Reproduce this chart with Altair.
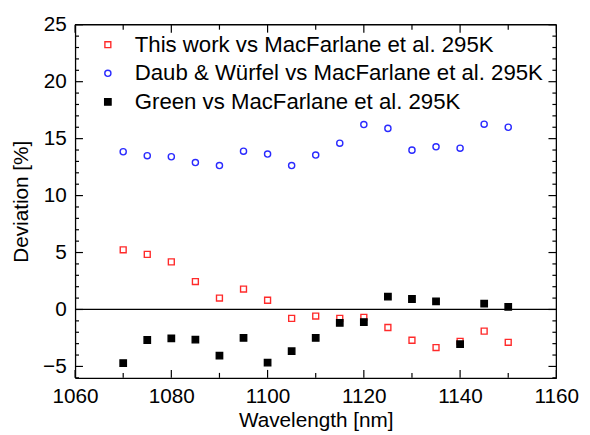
import altair as alt
import pandas as pd

wavelength = [1070, 1075, 1080, 1085, 1090, 1095, 1100, 1105, 1110, 1115,
              1120, 1125, 1130, 1135, 1140, 1145, 1150]
this_work = [5.24, 4.84, 4.18, 2.45, 1.0, 1.79, 0.81, -0.78, -0.58, -0.78,
             -0.69, -1.58, -2.7, -3.34, -2.8, -1.9, -2.88]
daub = [13.85, 13.5, 13.41, 12.9, 12.64, 13.9, 13.65, 12.64, 13.56, 14.6,
        16.24, 15.9, 13.99, 14.28, 14.16, 16.27, 16.0]
green = [-4.7, -2.68, -2.54, -2.65, -4.06, -2.5, -4.67, -3.66, -2.5, -1.18,
         -1.1, 1.12, 0.92, 0.72, -3.05, 0.52, 0.23]

series = ["This work vs MacFarlane et al. 295K",
          "Daub & Würfel vs MacFarlane et al. 295K",
          "Green vs MacFarlane et al. 295K"]
colors = ["#ff2a2a", "#2a2aff", "#000000"]
fills = ["transparent", "transparent", "#000000"]
shapes = ["square", "circle", "square"]
sizes = [36, 42, 60]

x_major = [1060, 1080, 1100, 1120, 1140, 1160]
x_minor = list(range(1070, 1160, 20))
y_major = [-5, 0, 5, 10, 15, 20, 25]
y_minor = [v for v in range(-6, 26) if v % 5 != 0]

rows = []
for name, vals in zip(series, [this_work, daub, green]):
    for w, v in zip(wavelength, vals):
        rows.append({"wl": w, "dev": v, "series": name})
df = pd.DataFrame(rows)

W, H = 488, 358
FONT = "Liberation Sans"
xs = alt.Scale(domain=[1060, 1160], nice=False, zero=False)
ys = alt.Scale(domain=[-6, 25], nice=False, zero=False)

x_label_axis = alt.Axis(values=x_major, ticks=False, grid=False,
                        domain=True, domainColor="black", domainWidth=1.3,
                        labelFontSize=21, labelFont=FONT, labelColor="black",
                        labelPadding=8, labelFlush=False, format="d",
                        title="Wavelength [nm]", titleFontSize=21, titleFont=FONT,
                        titleFontWeight="normal", titleColor="black", titlePadding=3)
y_label_axis = alt.Axis(values=y_major, ticks=False, grid=False,
                        domain=True, domainColor="black", domainWidth=1.3,
                        labelFontSize=21, labelFont=FONT, labelColor="black",
                        labelPadding=9, labelFlush=False, format="d",
                        title="Deviation [%]", titleFontSize=21, titleFont=FONT,
                        titleFontWeight="normal", titleColor="black", titlePadding=11)

points = alt.Chart(df).mark_point(filled=False, strokeWidth=1.4, opacity=1).encode(
    x=alt.X("wl:Q", scale=xs, axis=x_label_axis),
    y=alt.Y("dev:Q", scale=ys, axis=y_label_axis),
    color=alt.Color("series:N", scale=alt.Scale(domain=series, range=colors),
                    legend=alt.Legend(title=None, orient="none", legendX=22, legendY=9,
                                      labelFontSize=22.5, labelFont=FONT, labelColor="black",
                                      rowPadding=6, labelOffset=16,
                                      symbolStrokeWidth=1.4, padding=0,
                                      labelLimit=600)),
    shape=alt.Shape("series:N", scale=alt.Scale(domain=series, range=shapes)),
    fill=alt.Fill("series:N", scale=alt.Scale(domain=series, range=fills)),
    size=alt.Size("series:N", scale=alt.Scale(domain=series, range=sizes)),
)


def xticks(values, length):
    d = pd.DataFrame({"v": values})
    base = alt.Chart(d).mark_rule(color="black", strokeWidth=1.2)
    bottom = base.encode(x=alt.X("v:Q", scale=xs, axis=None),
                         y=alt.value(H), y2=alt.value(H - length))
    top = base.encode(x=alt.X("v:Q", scale=xs, axis=None),
                      y=alt.value(0), y2=alt.value(length))
    return [bottom, top]


def yticks(values, length):
    d = pd.DataFrame({"v": values})
    base = alt.Chart(d).mark_rule(color="black", strokeWidth=1.2)
    left = base.encode(y=alt.Y("v:Q", scale=ys, axis=None),
                       x=alt.value(0), x2=alt.value(length))
    right = base.encode(y=alt.Y("v:Q", scale=ys, axis=None),
                        x=alt.value(W), x2=alt.value(W - length))
    return [left, right]


frame_top = alt.Chart(pd.DataFrame({"t": [25]})).mark_rule(color="black", strokeWidth=1.3).encode(
    y=alt.Y("t:Q", scale=ys, axis=None))
frame_right = alt.Chart(pd.DataFrame({"r": [1160]})).mark_rule(color="black", strokeWidth=1.3).encode(
    x=alt.X("r:Q", scale=xs, axis=None))
zero = alt.Chart(pd.DataFrame({"z": [0]})).mark_rule(color="black", strokeWidth=1.3).encode(
    y=alt.Y("z:Q", scale=ys, axis=None))

layers = (xticks(x_major, 8) + xticks(x_minor, 5) + yticks(y_major, 8) + yticks(y_minor, 4)
          + [frame_top, frame_right, zero, points])

chart = alt.layer(*layers).resolve_axis(
    x="independent", y="independent"
).properties(
    width=W, height=H,
    autosize=alt.AutoSizeParams(type="none"),
    padding={"left": 68, "top": 14, "right": 26, "bottom": 55},
).configure_view(stroke=None)

chart.save("out.html", embed_options={"renderer": "svg", "actions": False})
